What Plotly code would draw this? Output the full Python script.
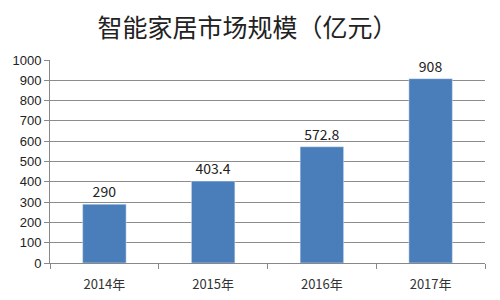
import plotly.graph_objects as go

categories = ["2014年", "2015年", "2016年", "2017年"]
values = [290, 403.4, 572.8, 908]
labels = ["290", "403.4", "572.8", "908"]

font = "Noto Sans CJK SC"
fig = go.Figure(go.Bar(
    x=categories, y=values, text=labels, textposition="outside",
    marker_color="#4A7EBB", width=0.4, cliponaxis=False,
    textfont=dict(size=14, color="#222", family=font),
))
fig.update_layout(
    width=500, height=300, margin=dict(l=50, r=15, t=60, b=37),
    paper_bgcolor="white", plot_bgcolor="white",
    title=dict(text="智能家居市场规模（亿元）", x=0.495, xanchor="center", y=0.905, yanchor="middle",
               font=dict(size=25, color="#222", family=font)),
    showlegend=False,
)
fig.update_xaxes(showline=True, linecolor="#888", ticks="outside", tickson="boundaries",
                 ticklen=5, tickcolor="#888", ticklabelstandoff=9, automargin=False,
                 tickfont=dict(size=13, color="#333", family=font))
fig.update_yaxes(range=[0, 1000], dtick=100, showgrid=True, gridcolor="#8c8c8c", gridwidth=1,
                 showline=True, linecolor="#888", ticks="outside", ticklen=5, tickcolor="#888",
                 zeroline=False, automargin=False,
                 tickfont=dict(size=13, color="#222", family="Liberation Sans"))
fig.write_html("out.html")
